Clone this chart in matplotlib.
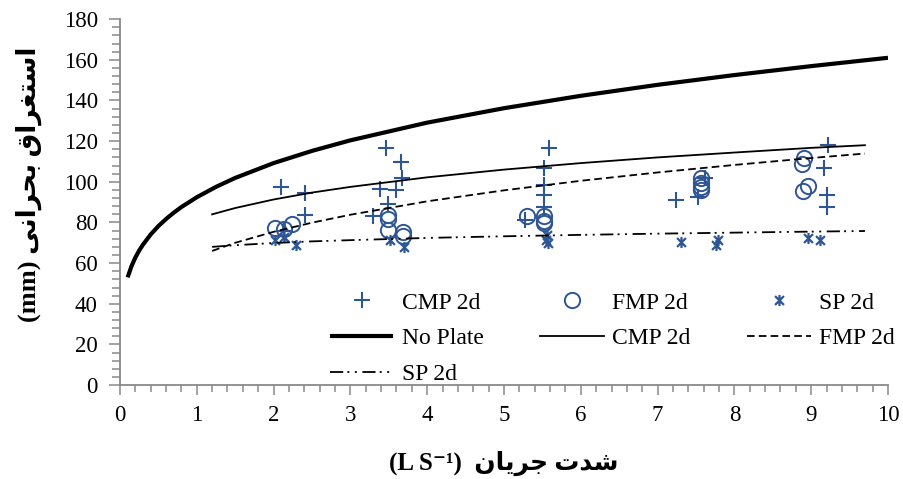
import matplotlib

matplotlib.use("Agg")
import matplotlib.pyplot as plt
from matplotlib.path import Path
from matplotlib.ticker import MultipleLocator

# measured points: flow rate (L/s) vs critical submergence (mm)
cmp_x = [2.10, 2.41, 2.41, 2.13, 3.29, 3.39, 3.47, 3.49, 3.60, 3.66, 3.67,
         5.27, 5.52, 5.52, 5.52, 5.52, 5.58, 7.24, 7.53, 7.62, 9.17, 9.21, 9.20, 9.22]
cmp_y = [97.5, 94.3, 83.6, 76.0, 83.1, 96.7, 116.4, 89.0, 96.2, 109.8, 102.0,
         81.2, 107.0, 98.4, 93.5, 87.7, 116.4, 91.0, 92.6, 101.7, 106.6, 93.5, 87.4, 118.0]

fmp_x = [2.02, 2.14, 2.24, 3.49, 3.49, 3.49, 3.68, 3.68, 5.30, 5.52, 5.52, 5.52,
         7.56, 7.56, 7.56, 7.56, 8.88, 8.90, 8.89, 8.96]
fmp_y = [77.1, 76.6, 79.2, 83.6, 81.5, 76.2, 75.4, 73.5, 83.1, 83.1, 80.8, 79.5,
         101.7, 99.2, 97.2, 96.0, 109.0, 111.5, 95.4, 97.9]

sp_x = [2.02, 2.13, 2.29, 3.52, 3.70, 5.56, 5.55, 5.57, 7.30, 7.79, 7.76, 8.96, 9.12]
sp_y = [71.3, 73.0, 68.9, 71.3, 68.0, 74.0, 71.5, 70.0, 70.5, 71.3, 68.9, 72.2, 71.3]

# trend curves
noplate_x = [0.1, 0.15, 0.2, 0.25, 0.3, 0.4, 0.5, 0.6, 0.7, 0.8, 1.0, 1.25, 1.5, 2.0, 2.5,
             3.0, 4.0, 5.0, 6.0, 7.0, 8.0, 9.0, 10.0]
noplate_y = [53.0, 58.5, 62.7, 66.2, 69.1, 74.1, 78.2, 81.7, 84.8, 87.6, 92.4, 97.5, 101.9,
             109.2, 115.2, 120.4, 129.1, 136.2, 142.3, 147.7, 152.5, 156.9, 161.0]

trend_x = [1.2, 1.5, 2.0, 2.5, 3.0, 4.0, 5.0, 6.0, 7.0, 8.0, 9.0, 9.7]
cmp_trend = [84.0, 87.1, 91.3, 94.7, 97.5, 102.2, 106.0, 109.2, 112.0, 114.4, 116.7, 118.0]
fmp_trend = [66.0, 70.0, 75.4, 79.9, 83.8, 90.4, 95.8, 100.5, 104.6, 108.3, 111.7, 113.9]
sp_trend = [68.0, 68.8, 69.9, 70.7, 71.3, 72.4, 73.2, 73.9, 74.5, 75.0, 75.5, 75.8]

# Persian labels, pre-shaped and in visual order
ylabel_fa = "\uFE8D\uFEB3\uFE98\uFED0\uFEAE\uFE8D\uFED5 \uFE91\uFEA4\uFEAE\uFE8D\uFEE7\uFBFD"
xlabel_fa = "\uFEB7\uFEAA\uFE95 \uFE9F\uFEAE\uFBFE\uFE8E\uFEE5"
ylabel = "(mm) " + ylabel_fa[::-1]
xlabel = "(L S\u207B\u00B9)  " + xlabel_fa[::-1]

BLUE = "#2E5594"
GRAY = "#898989"

plt.rcParams["font.family"] = ["Liberation Serif", "DejaVu Sans"]
plt.rcParams["font.size"] = 16
plt.rcParams["lines.scale_dashes"] = False

star = Path(
    [(-1, -1), (1, 1), (-1, 1), (1, -1), (0, -1.25), (0, 1.25)],
    [Path.MOVETO, Path.LINETO, Path.MOVETO, Path.LINETO, Path.MOVETO, Path.LINETO],
)

fig = plt.figure(figsize=(9.04, 4.79), dpi=100)
ax = fig.add_axes([0.1327, 0.196, 0.8496, 0.764])

p_cmp, = ax.plot(cmp_x, cmp_y, ls="none", marker="+", ms=11, mew=1.5, color=BLUE)
p_fmp, = ax.plot(fmp_x, fmp_y, ls="none", marker="o", ms=11, mew=1.4, mfc="none", mec=BLUE)
p_sp, = ax.plot(sp_x, sp_y, ls="none", marker=star, ms=8, mew=1.6, color=BLUE)

l_np, = ax.plot(noplate_x, noplate_y, color="black", lw=3.0, solid_capstyle="butt")
l_cmp, = ax.plot(trend_x, cmp_trend, color="black", lw=1.3)
l_fmp, = ax.plot(trend_x, fmp_trend, color="black", lw=1.3, ls=(0, (5.5, 3.0)))
l_sp, = ax.plot(trend_x, sp_trend, color="black", lw=1.3, ls=(0, (9.5, 3.0, 1.4, 4.0, 1.4, 4.0)))

ax.set_xlim(0, 10)
ax.set_ylim(0, 180)
ax.xaxis.set_major_locator(MultipleLocator(1))
ax.xaxis.set_minor_locator(MultipleLocator(0.2))
ax.yaxis.set_major_locator(MultipleLocator(20))
ax.yaxis.set_minor_locator(MultipleLocator(4))
ax.tick_params(axis="both", which="both", direction="out", color=GRAY, width=1.1, labelsize=16.5)
ax.tick_params(axis="y", which="major", length=8, pad=8)
ax.tick_params(axis="y", which="minor", length=5.5)
ax.tick_params(axis="x", which="major", length=7, pad=7)
ax.tick_params(axis="x", which="minor", length=5)
for side in ("top", "right"):
    ax.spines[side].set_visible(False)
for side in ("left", "bottom"):
    ax.spines[side].set_color(GRAY)
    ax.spines[side].set_linewidth(1.3)

ax.set_ylabel(ylabel, fontsize=19, fontweight="bold")
ax.yaxis.set_label_coords(-0.102, 0.55)
ax.set_xlabel(xlabel, fontsize=18, fontweight="bold")
ax.xaxis.set_label_coords(0.5, -0.18)

handles = [p_cmp, l_np, l_sp, p_fmp, l_cmp, p_sp, l_fmp]
labels = ["CMP 2d", "No Plate", "SP 2d", "FMP 2d", "CMP 2d", "SP 2d", "FMP 2d"]
ax.legend(handles, labels, ncol=3, loc="lower left", bbox_to_anchor=(0.273, 0.0),
          frameon=False, borderpad=0, borderaxespad=0, handlelength=2.7,
          handletextpad=0.35, columnspacing=2.4, labelspacing=0.6, fontsize=17)

fig.savefig("out.png", dpi=100)
